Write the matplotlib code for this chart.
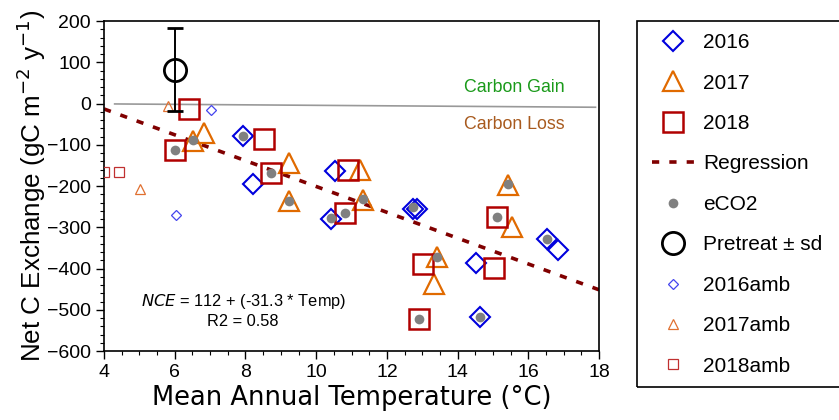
import matplotlib.pyplot as plt
from matplotlib.lines import Line2D
from matplotlib.patches import Rectangle
import numpy as np

plt.rcParams['font.family'] = ['Liberation Sans', 'DejaVu Sans']

# big markers, eCO2 plots per year
t2016 = [7.92, 8.22, 10.53, 10.43, 12.73, 12.86, 14.52, 14.63, 16.52, 16.85]
nce2016 = [-79, -196, -164, -279, -256, -256, -387, -517, -328, -354]

t2017 = [6.53, 6.84, 9.23, 9.23, 11.24, 11.33, 13.43, 13.34, 15.42, 15.53]
nce2017 = [-91, -72, -145, -236, -160, -234, -373, -438, -198, -299]

t2018 = [6.41, 6.02, 8.52, 8.71, 10.91, 10.82, 13.03, 12.92, 15.12, 15.03]
nce2018 = [-14, -112, -87, -168, -161, -265, -389, -523, -275, -398]

# eCO2 centre dots
t_eco2 = [6.02, 6.53, 7.92, 8.71, 9.23, 10.43, 10.82, 11.32, 12.73, 13.43,
          12.92, 14.63, 15.12, 15.42, 16.52]
nce_eco2 = [-112, -89, -79, -168, -236, -278, -265, -231, -251, -371,
            -523, -517, -275, -196, -328]

# ambient plots
t2016amb = [7.03, 6.03]
nce2016amb = [-15, -269]
t2017amb = [5.82, 5.02]
nce2017amb = [-5, -208]
t2018amb = [4.01, 4.42]
nce2018amb = [-166, -166]

# pretreatment mean +- sd
pre_t = 6.0
pre_nce = 82
pre_sd = 100

# regression NCE = 112 + (-31.3 * Temp)
intercept = 112
slope = -31.3
reg_t = np.array([4, 18])

# gain / loss divider
div_t = [4.3, 17.9]
div_nce = [-1, -9]

fig = plt.figure(figsize=(8.39, 4.2), dpi=100)
ax = fig.add_axes([0.124, 0.164, 0.59, 0.786])

ax.plot(div_t, div_nce, color='#999999', lw=1.2, zorder=1)
ax.plot(reg_t, intercept + slope * reg_t, color='#800000', lw=2.6,
        dashes=(2, 2.8), zorder=2)

ax.plot(t2016, nce2016, 'D', ms=10.5, mfc='none', mec='#0000dd', mew=1.5, zorder=3)
ax.plot(t2017, nce2017, '^', ms=15, mfc='none', mec='#e06a00', mew=1.6, zorder=3)
ax.plot(t2018, nce2018, 's', ms=15, mfc='none', mec='#b00000', mew=1.8, zorder=3)
ax.plot(t_eco2, nce_eco2, 'o', ms=7, color='#808080', mec='none', zorder=4)

ax.errorbar(pre_t, pre_nce, yerr=pre_sd, fmt='o', ms=16, mfc='none', mec='black',
            mew=2, ecolor='black', elinewidth=1.4, capsize=6, capthick=1.4, zorder=5)

ax.plot(t2016amb, nce2016amb, 'D', ms=5, mfc='none', mec='#4444ee', mew=0.9, zorder=3)
ax.plot(t2017amb, nce2017amb, '^', ms=7, mfc='none', mec='#e07030', mew=0.9, zorder=3)
ax.plot(t2018amb, nce2018amb, 's', ms=7, mfc='none', mec='#c03030', mew=0.9, zorder=3)

ax.text(15.59, 38, 'Carbon Gain', color='#1a9a1a', fontsize=12.8, ha='center', va='center')
ax.text(15.59, -52, 'Carbon Loss', color='#a85a1e', fontsize=12.8, ha='center', va='center')
ax.text(7.96, -480, r'$\it{NCE}$ = 112 + (-31.3 * Temp)', fontsize=11.8, ha='center', va='center')
ax.text(7.93, -529, 'R2 = 0.58', fontsize=11.8, ha='center', va='center')

ax.set_xlim(4, 18)
ax.set_ylim(-600, 200)
ax.set_xticks(np.arange(4, 19, 2))
ax.set_xticks(np.arange(4, 18.1, 0.5), minor=True)
ax.set_yticks(np.arange(-600, 201, 100))
ax.set_yticks(np.arange(-600, 201, 20), minor=True)
ax.tick_params(which='major', labelsize=14, length=6, width=1)
ax.tick_params(which='minor', length=3, width=0.8)
for s in ax.spines.values():
    s.set_linewidth(1.2)

ax.set_xlabel('Mean Annual Temperature (°C)', fontsize=18.5, family='DejaVu Sans', labelpad=3)
ax.set_ylabel('Net C Exchange (gC m$^{-2}$ y$^{-1}$)', fontsize=18.7, labelpad=-1)

handles = [
    Line2D([], [], ls='none', marker='D', ms=10.5, mfc='none', mec='#0000dd', mew=1.5),
    Line2D([], [], ls='none', marker='^', ms=15, mfc='none', mec='#e06a00', mew=1.6),
    Line2D([], [], ls='none', marker='s', ms=15, mfc='none', mec='#b00000', mew=1.8),
    Line2D([], [], color='#800000', lw=2.6, dashes=(2, 2.8)),
    Line2D([], [], ls='none', marker='o', ms=7, color='#808080', mec='none'),
    Line2D([], [], ls='none', marker='o', ms=16, mfc='none', mec='black', mew=2),
    Line2D([], [], ls='none', marker='D', ms=5, mfc='none', mec='#4444ee', mew=0.9),
    Line2D([], [], ls='none', marker='^', ms=7, mfc='none', mec='#e07030', mew=0.9),
    Line2D([], [], ls='none', marker='s', ms=7, mfc='none', mec='#c03030', mew=0.9),
]
labels = ['2016', '2017', '2018', 'Regression', 'eCO2', 'Pretreat ± sd',
          '2016amb', '2017amb', '2018amb']
fig.legend(handles, labels, loc='upper left', bbox_to_anchor=(0.767, 0.941),
           frameon=False, fontsize=15, labelspacing=1.03, handlelength=2.0,
           handletextpad=0.45, borderaxespad=0)
fig.patches.append(Rectangle((637 / 839, 1 - 387 / 420), 0.3, (387 - 21) / 420,
                             transform=fig.transFigure, fill=False, lw=1.2,
                             edgecolor='black'))

fig.savefig('out.png', dpi=100)
